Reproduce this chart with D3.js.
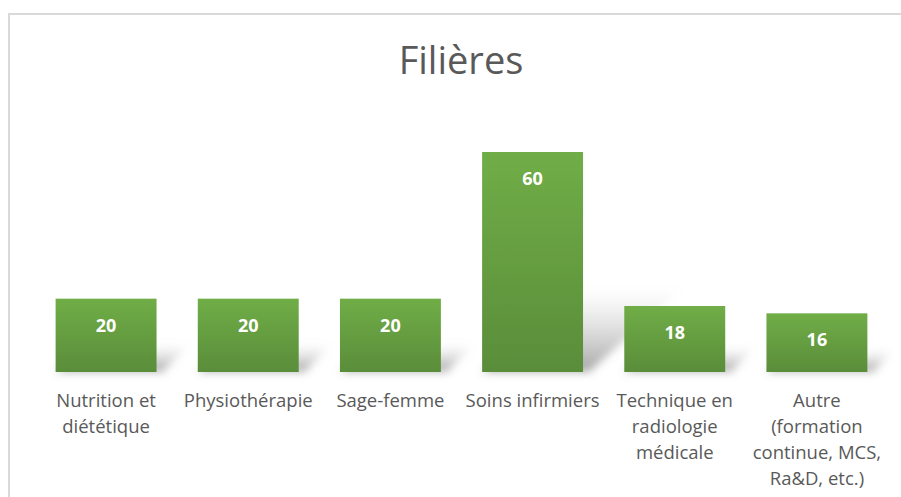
<!DOCTYPE html>
<html>
<head>
<meta charset="utf-8">
<script src="https://cdn.jsdelivr.net/npm/d3@7"></script>
<style>
  body { margin: 0; background: #fff; }
  text { font-family: "Open Sans", "DejaVu Sans", sans-serif; }
</style>
</head>
<body>
<svg id="chart" width="901" height="497"></svg>
<script>
    const categories = [
        ["Nutrition et", "diététique"],
        ["Physiothérapie"],
        ["Sage-femme"],
        ["Soins infirmiers"],
        ["Technique en", "radiologie", "médicale"],
        ["Autre", "(formation", "continue, MCS,", "Ra&D, etc.)"]
    ];
    const values = [20, 20, 20, 60, 18, 16];
    const title = "Filières";

    const svg = d3.select("#chart");
    const width = +svg.attr("width");
    const height = +svg.attr("height");

    const defs = svg.append("defs");
    const grad = defs.append("linearGradient")
        .attr("id", "barGrad").attr("x1", 0).attr("y1", 0).attr("x2", 0).attr("y2", 1);
    grad.append("stop").attr("offset", "0%").attr("stop-color", "#70ad47");
    grad.append("stop").attr("offset", "100%").attr("stop-color", "#5a8d3a");

    const shGrad = defs.append("linearGradient")
        .attr("id", "shadowGrad").attr("x1", 0).attr("y1", 1).attr("x2", 0).attr("y2", 0);
    shGrad.append("stop").attr("offset", "0%").attr("stop-color", "#7f7f7f").attr("stop-opacity", 0.7);
    shGrad.append("stop").attr("offset", "100%").attr("stop-color", "#bfbfbf").attr("stop-opacity", 0);

    defs.append("filter").attr("id", "blur")
        .attr("x", "-50%").attr("y", "-50%").attr("width", "200%").attr("height", "200%")
        .append("feGaussianBlur").attr("stdDeviation", 4);

    // chart frame (cropped on right and bottom)
    svg.append("path")
        .attr("d", `M9,${height} V14 H${width}`)
        .attr("fill", "none")
        .attr("stroke", "#d9d9d9")
        .attr("stroke-width", 2);

    svg.append("text")
        .attr("x", 461).attr("y", 74)
        .attr("text-anchor", "middle")
        .attr("font-family", "Lato, sans-serif")
        .attr("font-size", 38)
        .attr("fill", "#595959")
        .text(title);

    const x = d3.scaleBand()
        .domain(d3.range(categories.length))
        .range([35, 888])
        .paddingInner(0.29)
        .paddingOuter(0.145);

    const y = d3.scaleLinear()
        .domain([0, 60])
        .range([372, 152]);

    const g = svg.append("g");

    // perspective shadows
    g.selectAll(".shadow")
        .data(values)
        .join("path")
        .attr("class", "shadow")
        .attr("fill", "url(#shadowGrad)")
        .attr("filter", "url(#blur)")
        .attr("d", (d, i) => {
            const x0 = x(i), x1 = x(i) + x.bandwidth();
            const y0 = y(0), h = y(0) - y(d);
            const dx = h * 0.45, dy = h * 0.38;
            return `M${x0},${y0} L${x1 + 6},${y0} L${x1 + dx},${y0 - dy} L${x0 + dx},${y0 - dy} Z`;
        });

    g.selectAll(".bar")
        .data(values)
        .join("rect")
        .attr("class", "bar")
        .attr("x", (d, i) => x(i))
        .attr("y", d => y(d))
        .attr("width", x.bandwidth())
        .attr("height", d => y(0) - y(d))
        .attr("fill", "url(#barGrad)");

    g.selectAll(".val")
        .data(values)
        .join("text")
        .attr("class", "val")
        .attr("x", (d, i) => x(i) + x.bandwidth() / 2)
        .attr("y", d => y(d) + 33)
        .attr("text-anchor", "middle")
        .attr("font-size", 18)
        .attr("font-weight", "bold")
        .attr("fill", "#ffffff")
        .text(d => d);

    const labels = g.selectAll(".lab")
        .data(categories)
        .join("text")
        .attr("class", "lab")
        .attr("text-anchor", "middle")
        .attr("font-family", "Lato, sans-serif")
        .attr("font-size", 18.5)
        .attr("fill", "#595959");

    labels.selectAll("tspan")
        .data((d, i) => d.map(line => ({ line, i })))
        .join("tspan")
        .attr("x", d => x(d.i) + x.bandwidth() / 2)
        .attr("y", (d, j) => 407 + j * 26)
        .text(d => d.line);
</script>
</body>
</html>
